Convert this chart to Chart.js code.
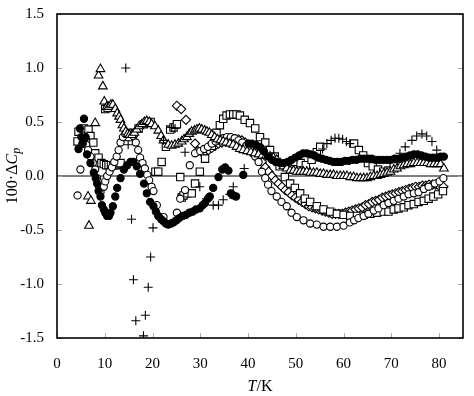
<!DOCTYPE html>
<html>
<head>
<meta charset="utf-8">
<script src="https://cdn.jsdelivr.net/npm/chart.js@4/dist/chart.umd.min.js"></script>
<style>
  html, body { margin: 0; padding: 0; background: #fff; }
  #wrap { width: 474px; height: 396px; }
</style>
</head>
<body>
<div id="wrap"><canvas id="chart" width="474" height="396"></canvas></div>
<script>
// axis ticks
const xTicks = [0, 10, 20, 30, 40, 50, 60, 70, 80];
const yTicks = [-1.5, -1.0, -0.5, 0.0, 0.5, 1.0, 1.5];

// filled circles
const dotT = [4.5, 4.8, 5.1, 5.4, 5.65, 6.0, 6.3, 7.0, 7.7, 8.1,
  8.4, 8.7, 9.1, 9.4, 9.8, 10.1, 10.5, 10.9, 11.2, 11.7,
  12.2, 12.6, 13.3, 14.0, 14.7, 15.4, 16.0, 16.7, 17.4, 18.2,
  18.8, 19.5, 20.2, 20.7, 21.2, 21.8, 22.3, 22.8, 23.3, 23.9,
  24.4, 25.0, 25.6, 26.3, 27.0, 27.7, 28.4, 29.1, 29.9, 30.5,
  31.0, 31.6, 32.0, 32.7, 33.8, 34.6, 35.2, 35.9, 36.4, 36.9,
  37.5, 39.0, 40.1, 40.8, 41.6, 42.5, 43.3, 44.2, 45.0, 45.8,
  46.7, 47.5, 48.3, 49.1, 49.9, 50.7, 51.5, 52.3, 53.1, 53.9,
  54.7, 55.5, 56.3, 57.1, 57.9, 58.7, 59.5, 60.3, 61.1, 61.9,
  62.7, 63.5, 64.3, 65.1, 65.9, 66.7, 67.5, 68.3, 69.1, 69.9,
  70.7, 71.5, 72.3, 73.1, 73.9, 74.7, 75.5, 76.3, 77.1, 77.9,
  78.7, 79.5, 80.3, 81.0];
const dotY = [0.25, 0.44, 0.36, 0.30, 0.53, 0.36, 0.20, 0.12, 0.03, -0.02,
  -0.07, -0.14, -0.19, -0.27, -0.31, -0.34, -0.37, -0.37, -0.34, -0.28,
  -0.19, -0.11, -0.02, 0.06, 0.10, 0.13, 0.13, 0.09, 0.02, -0.07,
  -0.16, -0.24, -0.28, -0.33, -0.37, -0.40, -0.42, -0.44, -0.45, -0.44,
  -0.43, -0.41, -0.39, -0.37, -0.36, -0.34, -0.33, -0.31, -0.30, -0.27,
  -0.25, -0.21, -0.19, -0.11, -0.01, 0.06, 0.08, 0.05, -0.16, -0.18,
  -0.19, 0.01, 0.30, 0.30, 0.29, 0.27, 0.23, 0.18, 0.15, 0.13,
  0.12, 0.12, 0.13, 0.15, 0.17, 0.19, 0.21, 0.21, 0.20, 0.19,
  0.17, 0.16, 0.15, 0.14, 0.13, 0.13, 0.13, 0.14, 0.14, 0.15,
  0.15, 0.16, 0.16, 0.16, 0.16, 0.15, 0.15, 0.15, 0.15, 0.15,
  0.16, 0.16, 0.17, 0.18, 0.19, 0.20, 0.20, 0.19, 0.18, 0.17,
  0.17, 0.17, 0.18, 0.18];

// open circles
const ringT = [4.3, 4.9, 5.3, 5.7, 6.1, 6.5, 7.0, 7.5, 8.0, 8.4,
  8.8, 9.1, 9.8, 10.1, 10.5, 11.0, 11.5, 12.0, 12.5, 12.9,
  13.3, 13.8, 14.3, 14.9, 15.4, 16.0, 16.5, 17.0, 17.4, 17.9,
  18.4, 18.9, 19.3, 19.8, 20.2, 20.9, 22.3, 25.1, 25.8, 26.8,
  27.8, 28.9, 30.0, 30.8, 31.6, 32.4, 33.2, 34.0, 34.8, 35.6,
  36.4, 37.2, 38.0, 38.8, 39.6, 40.4, 41.0, 41.5, 42.2, 42.9,
  43.6, 44.2, 44.9, 46.0, 47.0, 48.1, 49.1, 50.2, 51.6, 53.0,
  54.4, 55.8, 57.2, 58.6, 60.0, 61.3, 62.2, 63.1, 64.2, 65.2,
  66.3, 67.3, 68.4, 69.4, 70.5, 71.5, 72.6, 73.6, 74.7, 75.7,
  76.8, 77.8, 79.1, 80.1, 80.9];
const ringY = [-0.18, 0.06, 0.30, 0.35, 0.29, 0.24, 0.18, 0.12, 0.06, -0.02,
  -0.10, -0.15, -0.10, -0.05, 0.00, 0.04, 0.08, 0.13, 0.18, 0.24,
  0.31, 0.36, 0.39, 0.40, 0.40, 0.37, 0.31, 0.24, 0.17, 0.12,
  0.07, 0.01, -0.04, -0.10, -0.14, -0.27, -0.38, -0.34, -0.21, -0.13,
  0.10, 0.21, 0.23, 0.25, 0.27, 0.30, 0.32, 0.34, 0.35, 0.36,
  0.36, 0.35, 0.33, 0.31, 0.28, 0.25, 0.21, 0.18, 0.13, 0.04,
  -0.02, -0.08, -0.14, -0.19, -0.24, -0.28, -0.34, -0.38, -0.41, -0.44,
  -0.45, -0.47, -0.47, -0.47, -0.46, -0.43, -0.41, -0.39, -0.37, -0.35,
  -0.32, -0.30, -0.27, -0.25, -0.23, -0.21, -0.19, -0.17, -0.16, -0.15,
  -0.12, -0.10, -0.07, -0.05, -0.02];

// open squares
const boxT = [4.3, 4.5, 5.6, 6.6, 7.0, 7.6, 8.0, 8.7, 9.3, 9.8,
  10.3, 10.8, 11.3, 11.8, 12.3, 12.8, 13.3, 10.1, 10.6, 15.0,
  16.0, 17.1, 18.2, 18.9, 19.6, 20.6, 21.2, 21.9, 22.8, 23.7,
  24.4, 25.1, 25.8, 26.1, 26.5, 27.3, 28.2, 28.9, 29.9, 31.0,
  32.4, 33.4, 34.1, 34.8, 35.5, 36.2, 36.9, 37.6, 38.3, 39.3,
  40.4, 41.5, 42.5, 43.6, 44.6, 45.6, 46.6, 47.7, 48.8, 49.8,
  50.9, 51.9, 53.0, 54.4, 55.8, 57.2, 58.6, 60.0, 61.4, 62.8,
  64.2, 65.6, 67.0, 68.4, 69.4, 70.5, 71.5, 72.6, 73.6, 74.7,
  75.7, 76.8, 77.8, 78.8, 79.8, 80.8, 48.8, 49.9, 51.0, 52.1,
  53.3, 54.4, 55.1, 62.2, 63.2, 64.1, 65.1, 66.1, 67.2, 68.3,
  69.4, 70.5];
const boxY = [0.32, 0.41, 0.44, 0.43, 0.37, 0.31, 0.21, 0.17, 0.12, 0.11,
  0.10, 0.10, 0.10, 0.10, 0.10, 0.11, 0.12, 0.62, 0.63, 0.36,
  0.40, 0.44, 0.48, 0.50, 0.50, 0.04, 0.04, 0.13, 0.27, 0.43,
  0.45, 0.48, -0.01, -0.20, -0.18, -0.16, -0.16, -0.07, 0.04, 0.16,
  0.28, 0.40, 0.47, 0.53, 0.56, 0.57, 0.57, 0.57, 0.56, 0.52,
  0.49, 0.44, 0.36, 0.31, 0.24, 0.18, 0.09, -0.01, -0.07, -0.11,
  -0.16, -0.21, -0.24, -0.28, -0.31, -0.33, -0.35, -0.36, -0.37, -0.37,
  -0.36, -0.35, -0.34, -0.33, -0.33, -0.31, -0.30, -0.29, -0.27, -0.26,
  -0.24, -0.23, -0.21, -0.19, -0.17, -0.14, 0.09, 0.13, 0.12, 0.10,
  0.15, 0.22, 0.27, 0.30, 0.24, 0.19, 0.12, 0.09, 0.06, 0.04,
  0.05, 0.09];

// open triangles
const triT = [6.5, 6.7, 7.1, 8.0, 8.7, 9.1, 9.6, 9.9, 10.4, 10.8,
  11.3, 11.7, 12.2, 12.6, 13.0, 13.3, 13.7, 14.0, 14.4, 14.8,
  15.2, 15.7, 16.2, 16.7, 17.2, 17.8, 18.3, 18.8, 19.3, 19.8,
  20.5, 21.2, 21.8, 22.3, 23.3, 24.0, 24.7, 25.4, 26.1, 26.6,
  27.2, 27.7, 28.2, 28.8, 29.3, 29.8, 30.3, 30.9, 31.4, 31.9,
  32.4, 33.0, 33.6, 34.2, 34.8, 35.4, 36.2, 36.9, 37.6, 38.3,
  39.0, 39.8, 40.6, 41.4, 42.2, 43.0, 43.8, 44.6, 45.3, 46.0,
  46.7, 47.4, 48.1, 48.8, 49.5, 50.2, 50.9, 51.6, 52.3, 53.0,
  53.7, 54.4, 55.1, 55.8, 56.5, 57.2, 57.9, 58.6, 59.3, 60.0,
  60.7, 61.4, 62.1, 62.8, 63.5, 64.2, 64.9, 65.6, 66.3, 67.0,
  67.7, 68.4, 69.1, 69.8, 70.5, 71.2, 71.9, 72.6, 73.3, 74.0,
  74.7, 75.4, 76.1, 76.8, 77.5, 78.2, 78.9, 79.6, 80.3, 81.0];
const triY = [-0.19, -0.46, -0.23, 0.49, 0.93, 0.99, 0.83, 0.69, 0.64, 0.64,
  0.66, 0.66, 0.62, 0.58, 0.55, 0.52, 0.47, 0.44, 0.41, 0.39,
  0.38, 0.38, 0.40, 0.43, 0.46, 0.48, 0.50, 0.51, 0.50, 0.48,
  0.46, 0.42, 0.37, 0.33, 0.29, 0.28, 0.29, 0.30, 0.32, 0.34,
  0.36, 0.39, 0.41, 0.42, 0.43, 0.44, 0.43, 0.42, 0.41, 0.40,
  0.38, 0.36, 0.34, 0.33, 0.32, 0.31, 0.30, 0.29, 0.27, 0.25,
  0.24, 0.23, 0.22, 0.21, 0.20, 0.19, 0.19, 0.18, 0.17, 0.15,
  0.12, 0.09, 0.07, 0.05, 0.05, 0.04, 0.04, 0.04, 0.04, 0.03,
  0.03, 0.03, 0.02, 0.02, 0.01, 0.01, 0.01, 0.00, 0.00, 0.00,
  0.00, -0.01, -0.01, -0.02, -0.02, -0.02, -0.02, -0.01, 0.00, 0.00,
  0.01, 0.02, 0.03, 0.04, 0.06, 0.07, 0.09, 0.10, 0.11, 0.11,
  0.12, 0.12, 0.12, 0.12, 0.12, 0.11, 0.11, 0.11, 0.11, 0.07];

// open diamonds
const diaT = [25.1, 26.0, 27.0, 28.9, 29.5, 30.3, 31.0, 31.7, 32.4, 33.1,
  33.8, 34.5, 35.2, 35.9, 36.6, 37.3, 38.0, 38.7, 39.4, 40.1,
  40.8, 41.5, 42.2, 42.9, 43.6, 44.3, 45.0, 45.7, 46.4, 47.1,
  47.8, 48.5, 49.2, 49.9, 50.6, 51.3, 52.0, 52.7, 53.4, 54.1,
  54.8, 55.5, 56.2, 56.9, 57.6, 58.3, 59.0, 59.7, 60.4, 61.1,
  61.8, 62.5, 63.2, 63.9, 64.6, 65.3, 66.0, 66.7, 67.4, 68.1,
  68.8, 69.5, 70.2, 70.9, 71.6, 72.3, 73.0, 73.7, 74.4, 75.1,
  75.8, 76.5, 77.2, 77.9, 78.6, 79.3, 80.0, 80.9];
const diaY = [0.65, 0.62, 0.52, 0.30, 0.23, 0.22, 0.23, 0.24, 0.26, 0.28,
  0.30, 0.31, 0.32, 0.33, 0.34, 0.34, 0.34, 0.33, 0.31, 0.29,
  0.26, 0.22, 0.18, 0.13, 0.08, 0.04, 0.00, -0.04, -0.07, -0.10,
  -0.13, -0.15, -0.18, -0.20, -0.22, -0.24, -0.26, -0.28, -0.29, -0.30,
  -0.31, -0.32, -0.33, -0.34, -0.35, -0.35, -0.35, -0.35, -0.34, -0.33,
  -0.32, -0.31, -0.30, -0.29, -0.27, -0.26, -0.24, -0.23, -0.22, -0.20,
  -0.19, -0.18, -0.17, -0.16, -0.15, -0.14, -0.13, -0.12, -0.11, -0.10,
  -0.10, -0.09, -0.09, -0.08, -0.08, -0.08, -0.09, -0.10];

// plus signs
const plusT = [14.4, 14.9, 15.6, 16.0, 16.5, 18.1, 18.5, 19.1, 19.6, 20.1,
  22.3, 24.0, 24.7, 26.8, 29.9, 31.3, 32.7, 33.8, 34.8, 36.2,
  36.9, 39.2, 55.6, 56.5, 57.4, 58.2, 59.0, 59.8, 60.6, 61.3,
  71.8, 72.9, 74.3, 75.3, 76.4, 77.4, 78.5, 79.5];
const plusY = [1.00, 0.29, -0.40, -0.96, -1.34, -1.48, -1.29, -1.03, -0.75, -0.48,
  0.33, 0.45, 0.44, 0.22, -0.10, -0.21, -0.27, -0.27, -0.22, -0.17,
  -0.10, 0.07, 0.25, 0.30, 0.33, 0.35, 0.35, 0.34, 0.32, 0.30,
  0.21, 0.27, 0.33, 0.37, 0.39, 0.37, 0.32, 0.24];

const serif = '"Liberation Serif", "Times New Roman", serif';

function pts(xs, ys) {
  return xs.map((x, i) => ({ x: x, y: ys[i] }));
}

function series(xs, ys, style, radius, fill) {
  return {
    data: pts(xs, ys),
    pointStyle: style,
    pointRadius: radius,
    pointHoverRadius: radius,
    pointBorderWidth: 1.1,
    pointBorderColor: '#000',
    pointBackgroundColor: fill,
    showLine: false
  };
}

// frame, inward ticks, zero line and axis titles
const framePlugin = {
  id: 'frame',
  beforeDatasetsDraw(chart) {
    const { ctx, chartArea: a, scales } = chart;
    const y0 = scales.y.getPixelForValue(0);
    ctx.save();
    ctx.strokeStyle = '#000';
    ctx.lineWidth = 1;
    ctx.beginPath();
    ctx.moveTo(a.left, y0);
    ctx.lineTo(a.right, y0);
    ctx.stroke();
    ctx.restore();
  },
  afterDraw(chart) {
    const { ctx, chartArea: a, scales } = chart;
    ctx.save();
    // small inward ticks, light grey
    ctx.strokeStyle = '#aaa';
    ctx.lineWidth = 1;
    ctx.beginPath();
    yTicks.forEach(v => {
      const py = Math.round(scales.y.getPixelForValue(v)) + 0.5;
      ctx.moveTo(a.left, py); ctx.lineTo(a.left + 5, py);
      ctx.moveTo(a.right, py); ctx.lineTo(a.right - 5, py);
    });
    xTicks.forEach(v => {
      const px = Math.round(scales.x.getPixelForValue(v)) + 0.5;
      ctx.moveTo(px, a.bottom); ctx.lineTo(px, a.bottom - 5);
    });
    ctx.stroke();
    ctx.strokeStyle = '#000';
    ctx.lineWidth = 1.6;
    ctx.strokeRect(a.left, a.top, a.right - a.left, a.bottom - a.top);

    // y title: 100·ΔCp
    ctx.fillStyle = '#000';
    ctx.textBaseline = 'middle';
    const fReg = '16px ' + serif;
    const fIt = 'italic 16px ' + serif;
    const fSub = 'italic 12px ' + serif;
    ctx.font = fReg; const w1 = ctx.measureText('100·Δ').width;
    ctx.font = fIt; const w2 = ctx.measureText('C').width;
    ctx.font = fSub; const w3 = ctx.measureText('p').width;
    const tot = w1 + w2 + w3;
    ctx.save();
    ctx.translate(13, (a.top + a.bottom) / 2);
    ctx.rotate(-Math.PI / 2);
    let x = -tot / 2;
    ctx.font = fReg; ctx.textAlign = 'left'; ctx.fillText('100·Δ', x, 0); x += w1;
    ctx.font = fIt; ctx.fillText('C', x, 0); x += w2;
    ctx.font = fSub; ctx.fillText('p', x, 4);
    ctx.restore();

    // x title: T/K
    ctx.font = fIt; const t1 = ctx.measureText('T').width;
    ctx.font = fReg; const t2 = ctx.measureText('/K').width;
    let tx = (a.left + a.right) / 2 - (t1 + t2) / 2;
    ctx.textAlign = 'left';
    ctx.font = fIt; ctx.fillText('T', tx, 387);
    ctx.font = fReg; ctx.fillText('/K', tx + t1, 387);
    ctx.restore();
  }
};

new Chart(document.getElementById('chart'), {
  type: 'scatter',
  data: {
    datasets: [
      series(dotT, dotY, 'circle', 3.6, '#000'),
      series(plusT, plusY, 'cross', 4.5, '#000'),
      series(triT, triY, 'triangle', 5, '#fff'),
      series(ringT, ringY, 'circle', 3.6, '#fff'),
      series(boxT, boxY, 'rect', 5.2, '#fff'),
      series(diaT, diaY, 'rectRot', 4.6, '#fff')
    ]
  },
  options: {
    responsive: false,
    animation: false,
    events: [],
    layout: { padding: { left: 0, top: 14, right: 11, bottom: 0 } },
    plugins: { legend: { display: false }, tooltip: { enabled: false } },
    scales: {
      x: {
        type: 'linear',
        min: 0,
        max: 85,
        grid: { display: false, drawTicks: false },
        border: { display: false },
        afterBuildTicks: s => { s.ticks = xTicks.map(v => ({ value: v })); },
        afterFit: s => { s.height = 58; s.paddingLeft = 0; s.paddingRight = 0; },
        ticks: {
          padding: 17,
          maxRotation: 0,
          color: '#000',
          font: { family: serif, size: 15 }
        }
      },
      y: {
        type: 'linear',
        min: -1.5,
        max: 1.5,
        grid: { display: false, drawTicks: false },
        border: { display: false },
        afterBuildTicks: s => { s.ticks = yTicks.map(v => ({ value: v })); },
        afterFit: s => { s.width = 57; s.paddingTop = 0; s.paddingBottom = 0; },
        ticks: {
          padding: 13,
          color: '#000',
          font: { family: serif, size: 15 },
          callback: v => v.toFixed(1)
        }
      }
    }
  },
  plugins: [framePlugin]
});
</script>
</body>
</html>
